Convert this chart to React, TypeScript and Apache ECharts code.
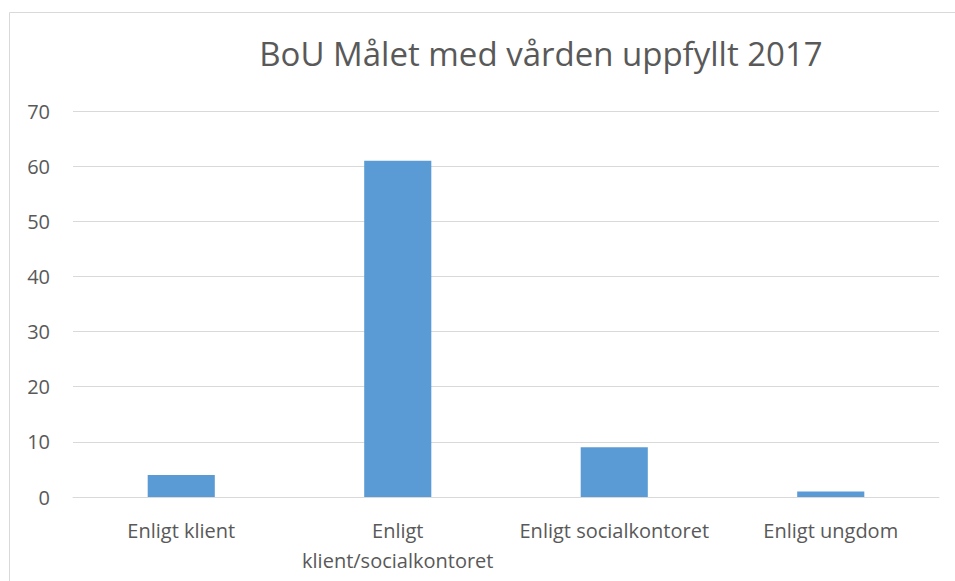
import React, { useEffect, useRef } from "react";
import * as echarts from "echarts";

const titleText = "BoU Målet med vården uppfyllt 2017";
const categories = [
  "Enligt klient",
  "Enligt\nklient/socialkontoret",
  "Enligt socialkontoret",
  "Enligt ungdom",
];
const values = [4, 61, 9, 1];
const yMin = 0;
const yMax = 70;
const yInterval = 10;

export default function App() {
  const ref = useRef<HTMLDivElement>(null);
  useEffect(() => {
    if (!ref.current) return;
    const chart = echarts.init(ref.current, null, { renderer: "svg" });
    const font = "'Open Sans', 'Noto Sans', sans-serif";
    chart.setOption({
      animation: false,
      backgroundColor: "#ffffff",
      title: {
        text: titleText,
        left: 536,
        top: 32,
        textAlign: "center",
        textStyle: {
          fontFamily: font,
          fontSize: 33,
          fontWeight: "normal",
          color: "#595959",
        },
      },
      graphic: [
        {
          type: "rect",
          shape: { x: 9.5, y: 12.5, width: 980, height: 620 },
          style: { fill: "none", stroke: "#D9D9D9", lineWidth: 1 },
          silent: true,
        },
      ],
      grid: { left: 73, right: 16, top: 111, bottom: 84, containLabel: false },
      xAxis: {
        type: "category",
        data: categories,
        axisLine: { lineStyle: { color: "#D9D9D9", width: 1 } },
        axisTick: { show: false },
        axisLabel: {
          fontFamily: font,
          fontSize: 20,
          color: "#595959",
          margin: 18,
          lineHeight: 30,
          interval: 0,
        },
      },
      yAxis: {
        type: "value",
        min: yMin,
        max: yMax,
        interval: yInterval,
        axisLine: { show: false },
        axisTick: { show: false },
        splitLine: { lineStyle: { color: "#D9D9D9", width: 1 } },
        axisLabel: {
          fontFamily: font,
          fontSize: 20,
          color: "#595959",
          margin: 23,
        },
      },
      series: [
        {
          type: "bar",
          data: values,
          barWidth: "31%",
          itemStyle: { color: "#5B9BD5" },
        },
      ],
    });
    return () => chart.dispose();
  }, []);
  return (
    <div
      ref={ref}
      style={{ position: "fixed", left: 0, top: 0, width: 955, height: 581 }}
    />
  );
}
